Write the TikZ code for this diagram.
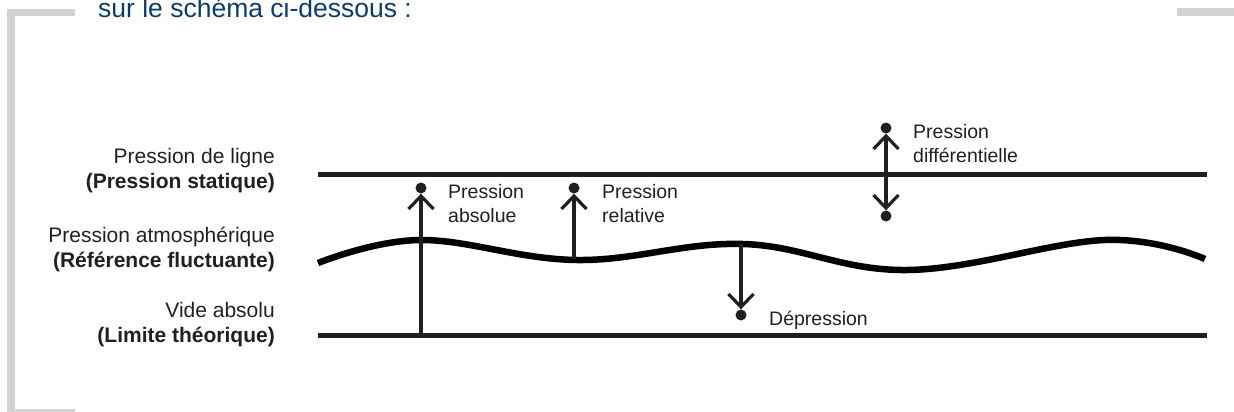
\documentclass[tikz,border=0pt]{standalone}
\usepackage{fontspec}
\setmainfont{Liberation Sans}
\usetikzlibrary{positioning, arrows.meta, calc}
\definecolor{ink}{HTML}{231F20}
\definecolor{titleblue}{HTML}{0E3C6A}
\definecolor{framegray}{HTML}{D2D3D5}
\tikzset{
  level/.style={line width=5pt, color=ink},
  wave/.style={line width=6.5pt, color=black},
  lvllbl/.style={font=\fontsize{21}{25}\selectfont, text=ink, align=right,
    inner sep=0pt, anchor=east},
  ptlbl/.style={font=\fontsize{19.5}{24}\selectfont, text=ink, align=left,
    inner sep=0pt, anchor=west},
  pt/.style={circle, fill=ink, inner sep=0pt, minimum size=11pt},
  meas/.style={-{Straight Barb[length=13pt, width=25pt]}, line width=3.2pt, color=ink},
  measb/.style={{Straight Barb[length=13pt, width=25pt]}-{Straight Barb[length=13pt, width=25pt]},
    line width=3.2pt, color=ink},
}

\begin{document}
\begin{tikzpicture}[x=1pt, y=-1pt]
  \clip (0,0) rectangle (1234,412);
  % frame
  \fill[framegray] (7,9) rectangle (75,16);
  \fill[framegray] (7,9) rectangle (15,412);
  \fill[framegray] (7,409) rectangle (75,412);
  \fill[framegray] (1177,8) rectangle (1234,16);
  \node[anchor=base west, inner sep=0pt, text=titleblue, font=\fontsize{26.5}{30}\selectfont]
    (title) at (98,18) {sur le schéma ci-dessous :};
  % levels
  \coordinate (statL) at (318,174); \coordinate (statR) at (1207,174);
  \coordinate (videL) at (318,335); \coordinate (videR) at (1207,335);
  \draw[level] (statL) -- (statR);
  \draw[level] (videL) -- (videR);
  \draw[wave] plot[smooth, tension=0.65] coordinates
    {(318,263) (420,240) (577,260) (743,244) (907,270) (1105,240) (1205,259)};
  \node[lvllbl] (lstat) at (275,171) {Pression de ligne\\\textbf{(Pression statique)}};
  \node[lvllbl] (latm) at (275,249) {Pression atmosphérique\\\textbf{(Référence fluctuante)}};
  \node[lvllbl] (lvide) at (275,325) {Vide absolu\\\textbf{(Limite théorique)}};
  % measures
  \node[pt] (pabs) at (421,188) {};
  \node[pt] (prel) at (574,188) {};
  \node[pt] (pdifT) at (886,128) {};
  \node[pt] (pdifB) at (886,216) {};
  \node[pt] (pdep) at (741,315) {};
  \coordinate (absbase) at (421,335);
  \coordinate (relbase) at (574,259);
  \coordinate (depbase) at (741,244);
  \draw[meas] (absbase) -- (pabs);
  \draw[meas] (relbase) -- (prel);
  \draw[measb] (pdifB) -- (pdifT);
  \draw[meas] (depbase) -- (pdep);
  \node[ptlbl] (tabs) at (448,204) {Pression\\absolue};
  \node[ptlbl] (trel) at (602,204) {Pression\\relative};
  \node[ptlbl] (tdif) at (913,144) {Pression\\différentielle};
  \node[ptlbl] (tdep) at (769,320) {Dépression};
\end{tikzpicture}
\end{document}
